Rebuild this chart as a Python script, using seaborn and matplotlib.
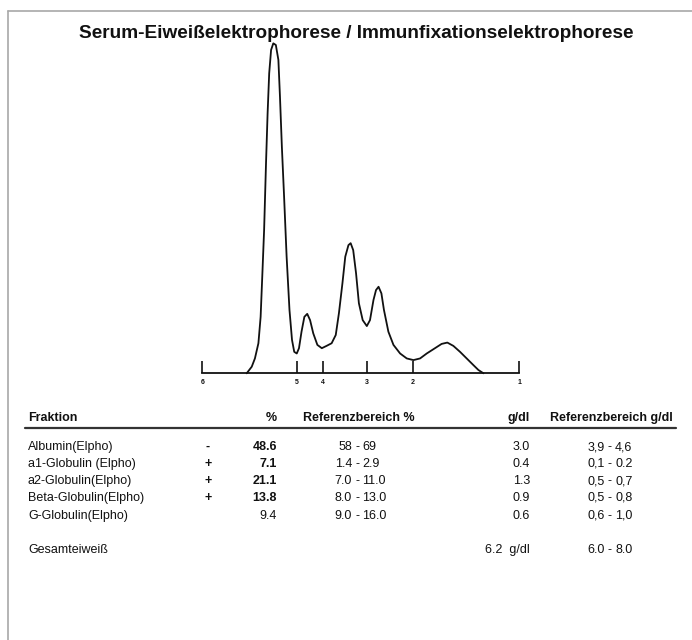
import matplotlib
matplotlib.use("Agg")
import matplotlib.pyplot as plt
from matplotlib.lines import Line2D
import seaborn as sns
import pandas as pd

# ---------------- data ----------------
title = "Serum-Eiweißelektrophorese / Immunfixationselektrophorese"

# densitometer curve (relative migration 0-100, relative intensity 0-100)
curve_x = [14.0, 15.6, 16.6, 17.7, 18.4, 19.0, 19.5, 20.1, 20.6, 21.1, 21.7,
           22.4, 23.2, 24.0, 24.5, 25.1, 25.8, 26.6, 27.5, 28.3, 29.0, 29.8,
           30.5, 31.3, 32.2, 33.1, 34.0, 35.0, 36.3, 37.7, 39.2, 40.8, 42.1,
           43.1, 44.2, 45.1, 46.1, 46.8, 47.6, 48.5, 49.4, 50.6, 51.9, 52.9,
           54.0, 54.8, 55.6, 56.5, 57.3, 58.7, 60.3, 62.4, 64.5, 66.6, 68.7,
           70.8, 73.4, 75.5, 77.3, 79.2, 81.3, 83.4, 85.5, 87.1, 88.7]
curve_y = [0.0, 2.0, 4.5, 9.1, 17.1, 31.3, 43.4, 63.6, 78.7, 90.8, 97.9,
           99.9, 99.4, 94.9, 83.8, 68.6, 53.5, 35.3, 19.2, 10.1, 6.5, 6.0,
           7.6, 12.6, 17.1, 18.0, 16.1, 12.1, 8.6, 7.6, 8.3, 9.1, 11.6,
           18.2, 27.2, 35.3, 38.8, 39.4, 37.3, 30.3, 21.2, 16.1, 14.3, 16.1,
           22.2, 25.2, 26.2, 24.2, 19.2, 12.6, 8.6, 6.0, 4.5, 4.0, 4.5,
           6.0, 7.6, 8.9, 9.3, 8.3, 6.5, 4.5, 2.5, 1.0, 0.0]

# fraction boundary marks
mark_pos = [0.0, 29.8, 38.0, 51.9, 66.4, 100.0]
mark_labels = ["6", "5", "4", "3", "2", "1"]

# table
headers = ["Fraktion", "%", "Referenzbereich %", "g/dl", "Referenzbereich g/dl"]
fractions = ["Albumin(Elpho)", "a1-Globulin (Elpho)", "a2-Globulin(Elpho)",
             "Beta-Globulin(Elpho)", "G-Globulin(Elpho)"]
flags = ["-", "+", "+", "+", ""]
percent = ["48.6", "7.1", "21.1", "13.8", "9.4"]
percent_bold = [True, True, True, True, False]
ref_pct_low = ["58", "1.4", "7.0", "8.0", "9.0"]
ref_pct_high = ["69", "2.9", "11.0", "13.0", "16.0"]
gdl = ["3.0", "0.4", "1.3", "0.9", "0.6"]
ref_gdl_low = ["3,9", "0,1", "0,5", "0,5", "0,6"]
ref_gdl_high = ["4,6", "0.2", "0,7", "0,8", "1,0"]
total_label = "Gesamteiweiß"
total_value = "6.2  g/dl"
total_ref_low = "6.0"
total_ref_high = "8.0"

# ---------------- figure ----------------
sns.set_style("white")
plt.rcParams["font.family"] = ["Liberation Sans", "DejaVu Sans"]

W, H = 692, 640
fig = plt.figure(figsize=(W / 100, H / 100), dpi=100)
fig.patch.set_facecolor("white")

def fx(x):
    return x / W

def fy(y):
    return 1 - y / H

INK = "#111111"

# border (left and top)
fig.add_artist(Line2D([fx(7.5), fx(7.5)], [fy(11), fy(640)], color="#a8a8a8", lw=1.2))
fig.add_artist(Line2D([fx(7.5), fx(692)], [fy(11), fy(11)], color="#a8a8a8", lw=1.2))

# curve axes
x0, x1, yb, yt = 202.3, 519.3, 373.3, 43.0
ax = fig.add_axes([fx(x0), fy(yb), fx(x1 - x0), (yb - yt) / H])
df = pd.DataFrame({"pos": curve_x, "val": curve_y})
sns.lineplot(data=df, x="pos", y="val", sort=False, ax=ax, color=INK, lw=1.3)
ax.set_xlim(0, 100)
ax.set_ylim(0, 100)
for s in ["top", "right", "left"]:
    ax.spines[s].set_visible(False)
ax.spines["bottom"].set_color(INK)
ax.spines["bottom"].set_linewidth(1.3)
ax.set_yticks([])
ax.set_xticks(mark_pos)
ax.set_xticklabels(mark_labels, fontsize=5, fontweight="bold", color=INK)
ax.tick_params(axis="x", direction="in", length=8.3, width=1.2, color=INK, pad=4,
               bottom=True)
ax.set_xlabel("")
ax.set_ylabel("")
ax.patch.set_alpha(0)
for ln in ax.get_lines():
    ln.set_clip_on(False)
    ln.set_solid_joinstyle("round")

# title
fig.text(fx(356), fy(33), title, ha="center", va="center", fontsize=13.7,
         fontweight="bold", color=INK)

# table
def put(x, y, s, ha="left", bold=False, size=9):
    fig.text(fx(x), fy(y), s, ha=ha, va="center", fontsize=size,
             fontweight="bold" if bold else "normal", color=INK)

hy = 418
put(28, hy, headers[0], bold=True)
put(277, hy, headers[1], ha="right", bold=True)
put(303, hy, headers[2], bold=True)
put(530, hy, headers[3], ha="right", bold=True)
put(550, hy, headers[4], bold=True)
fig.add_artist(Line2D([fx(25), fx(676)], [fy(428), fy(428)], color="#333333", lw=1.6))

row_y = [447, 464, 481, 498, 516]
for i, y in enumerate(row_y):
    put(28, y, fractions[i])
    put(208, y, flags[i], ha="center", bold=True)
    put(277, y, percent[i], ha="right", bold=percent_bold[i])
    put(352, y, ref_pct_low[i], ha="right")
    put(357, y, "-", ha="center")
    put(362, y, ref_pct_high[i])
    put(530, y, gdl[i], ha="right")
    put(605, y, ref_gdl_low[i], ha="right")
    put(610, y, "-", ha="center")
    put(615, y, ref_gdl_high[i])

ty = 550
put(28, ty, total_label)
put(530, ty, total_value, ha="right")
put(605, ty, total_ref_low, ha="right")
put(610, ty, "-", ha="center")
put(615, ty, total_ref_high)

fig.savefig("out.png", dpi=100, facecolor="white")
